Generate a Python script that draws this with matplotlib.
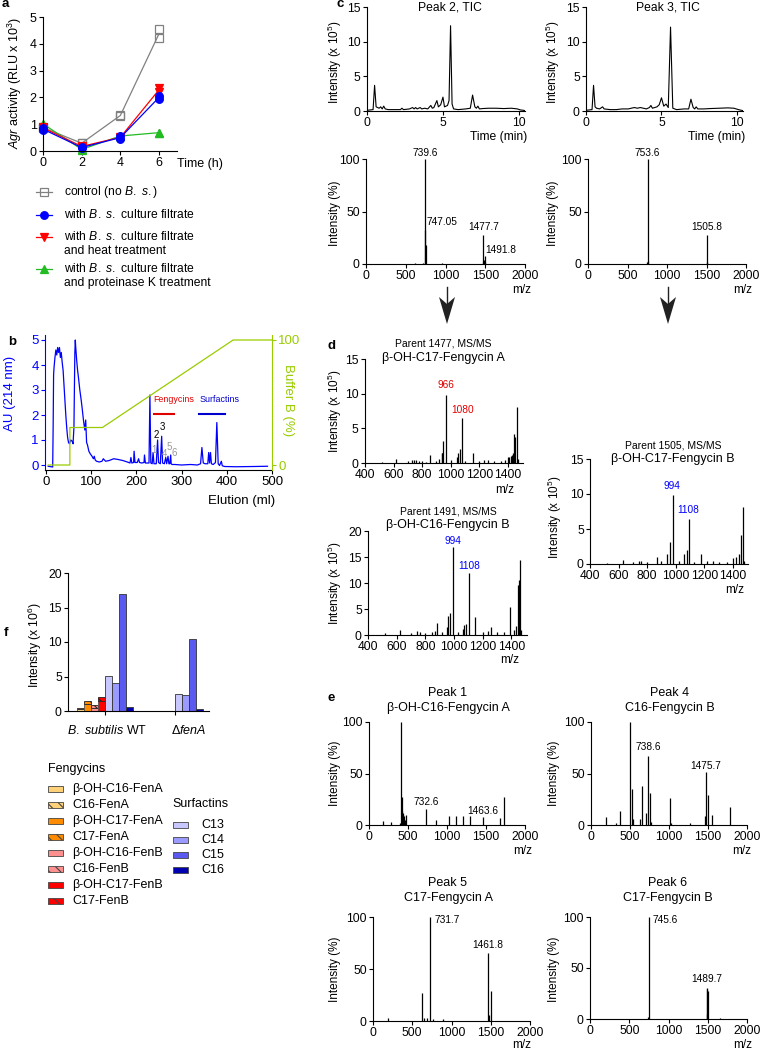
import matplotlib
matplotlib.use("Agg")
import matplotlib.pyplot as plt
from matplotlib.patches import Rectangle, Polygon
from matplotlib.lines import Line2D

plt.rcParams["font.family"] = ["Liberation Sans", "DejaVu Sans"]
plt.rcParams["mathtext.fontset"] = "custom"
plt.rcParams["mathtext.rm"] = "Liberation Sans"
plt.rcParams["mathtext.it"] = "Liberation Sans:italic"
plt.rcParams["hatch.linewidth"] = 0.8

# ---------------- data ----------------
# a: Agr activity, two replicates per condition
time_h = [0, 2, 4, 6]
agr_control = [[0.85, 0.30, 1.30, 4.55], [0.90, 0.28, 1.35, 4.20]]
agr_filtrate = [[0.78, 0.12, 0.45, 1.95], [0.85, 0.14, 0.55, 2.05]]
agr_heat = [[0.85, 0.16, 0.50, 2.22], [0.88, 0.18, 0.52, 2.35]]
agr_protk = [[1.00, 0.05, 0.55, 0.68], [1.02, 0.07, 0.57, 0.69]]
legend_a = [["control (no $\\it{B.}$ $\\it{s.}$)"],
            ["with $\\it{B.}$ $\\it{s.}$ culture filtrate"],
            ["with $\\it{B.}$ $\\it{s.}$ culture filtrate", "and heat treatment"],
            ["with $\\it{B.}$ $\\it{s.}$ culture filtrate", "and proteinase K treatment"]]

# b: chromatogram (AU 214 nm) and buffer B gradient
elution_ml = [5, 15, 16, 17, 18, 20, 22, 24, 26, 28, 30, 32, 34, 36, 38, 40, 42, 44, 46, 48,
              50, 52, 55, 58, 60, 62, 64, 65, 66, 68, 70, 72, 75, 78, 80, 83, 86, 88, 90, 92,
              95, 98, 102, 105, 107, 109, 112, 118, 124, 127, 132, 140, 150, 160, 170, 180,
              186, 188, 190, 194, 195, 197, 202, 205, 207, 212, 217, 218, 220, 228, 230, 232,
              235, 237, 239, 244, 247, 249, 253, 256, 258, 262, 265, 267, 270, 272, 274, 276,
              277, 279, 285, 300, 320, 335, 342, 345, 348, 352, 358, 360, 362, 364, 366, 370,
              375, 378, 381, 384, 388, 390, 395, 420, 460, 490]
au_214 = [-0.05, -0.08, 1.5, 3.6, 3.9, 4.3, 4.6, 4.4, 4.7, 4.5, 4.7, 4.3, 4.5, 4.1, 3.8,
          3.2, 2.6, 2.0, 1.5, 1.1, 0.9, 0.85, 1.0, 0.95, 0.85, 1.5, 4.5, 5.0, 4.7, 4.2, 3.8,
          3.5, 3.0, 2.6, 2.3, 1.8, 1.4, 1.8, 0.9, 0.8, 0.55, 0.45, 0.35, 0.25, 0.35, 0.2,
          0.15, 0.12, 0.15, 0.25, 0.15, 0.18, 0.25, 0.22, 0.18, 0.12, 0.08, 0.3, 0.08, 0.1,
          0.55, 0.1, 0.1, 0.25, 0.1, 0.08, 0.1, 0.4, 0.08, 0.08, 2.8, 0.08, 0.05, 0.5, 0.05,
          0.05, 1.0, 0.1, 0.05, 1.15, 0.08, 0.05, 0.3, 0.05, 0.35, 0.05, 0.05, 0.4, 0.05,
          0.02, 0.02, 0.0, 0.02, 0.0, 0.05, 0.7, 0.08, 0.05, 0.05, 0.5, 0.08, 0.5, 0.05,
          0.02, 0.1, 1.7, 0.05, -0.02, 0.15, -0.03, -0.06, -0.07, -0.06, -0.05]
gradient_ml = [5, 53, 53, 125, 414, 500]
buffer_b = [0, 0, 30, 30, 100, 100]
peak_numbers = ["1", "2", "3", "4", "5", "6"]
peak_num_x = [239, 245, 257, 263, 272, 283]
peak_num_y = [0.6, 1.2, 1.5, 0.45, 0.7, 0.5]
peak_num_grey = [True, False, False, True, True, True]

# c: TIC traces
tic2_t = [0, 0.4, 0.5, 0.6, 0.7, 0.8, 0.9, 1.0, 1.1, 1.2, 1.4, 1.8, 2.2, 2.3, 2.4, 2.8, 3.0,
          3.1, 3.2, 3.3, 3.5, 3.6, 3.8, 4.0, 4.2, 4.3, 4.4, 4.6, 4.7, 4.85, 5.0, 5.1, 5.3,
          5.4, 5.5, 5.6, 5.7, 6.0, 6.5, 6.8, 6.95, 7.1, 7.2, 7.3, 7.4, 7.6, 8.0, 8.5, 9.0,
          9.5, 9.9, 10.1, 10.3, 10.4]
tic2_i = [0.1, 0.2, 3.7, 0.6, 0.5, 0.4, 0.6, 0.3, 0.7, 0.3, 0.2, 0.2, 0.2, 0.4, 0.2, 0.3,
          0.5, 0.3, 0.5, 0.3, 0.5, 0.3, 0.4, 0.3, 0.8, 0.4, 0.5, 1.5, 0.6, 0.9, 2.0, 0.6,
          0.8, 1.5, 12.3, 1.0, 0.3, 0.2, 0.3, 0.4, 2.3, 0.6, 0.4, 0.7, 0.3, 0.35, 0.4, 0.4,
          0.35, 0.4, 0.3, 0.15, 0.1, 0.05]
tic3_t = [0, 0.4, 0.5, 0.6, 0.7, 0.9, 1.1, 1.2, 1.6, 2.0, 2.4, 2.8, 3.0, 3.2, 3.4, 3.6,
          3.8, 4.0, 4.2, 4.3, 4.4, 4.7, 4.85, 5.0, 5.15, 5.3, 5.45, 5.6, 5.75, 6.0, 6.5,
          6.8, 6.95, 7.1, 7.2, 7.3, 7.4, 7.8, 8.2, 8.8, 9.4, 9.8, 10.1, 10.3, 10.4]
tic3_i = [0.1, 0.2, 3.7, 0.6, 0.4, 0.3, 0.6, 0.3, 0.2, 0.2, 0.3, 0.3, 0.4, 0.5, 0.4, 0.5,
          0.4, 0.3, 0.5, 0.8, 0.4, 0.6, 0.9, 1.9, 0.7, 1.0, 0.5, 12.1, 0.4, 0.2, 0.3, 0.3,
          1.7, 0.5, 0.3, 0.6, 0.3, 0.3, 0.35, 0.4, 0.45, 0.4, 0.2, 0.1, 0.05]

# c: MS of peak 2 and peak 3
ms2_mz = [620, 720, 739.6, 747.05, 752, 960, 1470, 1477.7, 1485, 1491.8, 1498]
ms2_int = [0.5, 1, 100, 32, 18, 1, 2, 28, 4, 8, 2]
ms3_mz = [745, 753.6, 760, 1500, 1505.8, 1512]
ms3_int = [2, 100, 3, 2, 28, 1]

# d: MS/MS spectra (x 1e5)
p1477_mz = [520, 617, 700, 730, 745, 760, 780, 800, 830, 855, 900, 920, 936, 942, 948, 966,
            1000, 1040, 1052, 1064, 1080, 1100, 1157, 1200, 1230, 1260, 1300, 1350, 1380,
            1400, 1410, 1420, 1430, 1436, 1442, 1450, 1460, 1470]
p1477_int = [0.2, 0.6, 0.3, 0.4, 0.5, 0.4, 0.3, 0.3, 0.2, 1.1, 0.3, 0.6, 1.5, 1.4, 3.2, 9.8,
             0.4, 0.8, 1.4, 2.0, 6.5, 0.3, 1.5, 0.3, 0.4, 0.5, 0.3, 0.3, 0.4, 0.8, 0.9, 1.0,
             1.2, 1.5, 4.2, 3.8, 8.1, 0.6]
p1491_mz = [520, 620, 700, 740, 760, 800, 850, 870, 885, 920, 950, 960, 975, 994, 1030,
            1060, 1070, 1085, 1108, 1145, 1200, 1240, 1260, 1300, 1350, 1390, 1420, 1435,
            1448, 1452, 1460, 1470]
p1491_int = [0.3, 1.0, 0.4, 0.8, 0.5, 0.4, 0.6, 0.8, 2.4, 0.6, 1.5, 3.6, 4.2, 17, 0.5,
             1.2, 1.9, 2.2, 12, 3.4, 0.5, 0.8, 1.5, 0.5, 0.5, 5.3, 1.0, 1.8, 9.7, 10.5,
             14.5, 1.0]
p1505_mz = [520, 631, 700, 740, 760, 800, 866, 900, 940, 959, 978, 1020, 1059, 1076, 1094,
            1130, 1174, 1220, 1260, 1300, 1360, 1400, 1420, 1440, 1454, 1468, 1480]
p1505_int = [0.2, 0.6, 0.3, 0.5, 0.4, 0.3, 1.0, 0.4, 1.5, 3.2, 9.8, 0.4, 1.5, 2.0, 6.5,
             0.3, 1.5, 0.4, 0.5, 0.3, 0.3, 0.8, 1.0, 1.5, 4.2, 8.1, 0.5]

# e: MS of peaks 1, 4, 5, 6
pk1_mz = [184, 282, 400, 411, 418, 425, 432, 440, 449, 460, 474, 731, 859, 1030, 1115,
          1201, 1295, 1465, 1679, 1731]
pk1_int = [4, 3, 2, 100, 27, 14, 12, 10, 9, 5, 10, 16, 5, 9, 9, 9, 9, 8, 7, 27]
pk4_mz = [186, 318, 368, 495, 521, 540, 622, 660, 711, 737, 758, 775, 1012, 1030, 1270,
          1460, 1475, 1499, 1550, 1778]
pk4_int = [8, 2, 14, 100, 35, 6, 6, 38, 12, 67, 31, 3, 26, 2, 2, 9, 51, 29, 10, 17]
pk5_mz = [192, 627, 649, 687, 732, 768, 896, 1462, 1484, 1505]
pk5_int = [3, 27, 3, 3, 100, 2, 2, 65, 6, 29]
pk6_mz = [740, 745.6, 1485, 1489.7, 1495, 1500, 1650]
pk6_int = [2, 100, 5, 30, 29, 27, 1]

# f: lipopeptide intensities (x 1e6)
fen_names = ["β-OH-C16-FenA", "C16-FenA", "β-OH-C17-FenA", "C17-FenA",
             "β-OH-C16-FenB", "C16-FenB", "β-OH-C17-FenB", "C17-FenB"]
fen_colors = ["#FFD27A", "#FFD27A", "#FF8C00", "#FF8C00",
              "#FF9090", "#FF9090", "#FF0000", "#FF0000"]
fen_wt_base = [0.35, 1.0, 0.5, 1.4]      # beta-OH forms
fen_wt_top = [0.12, 0.5, 0.3, 0.6]       # non-hydroxylated forms (hatched)
sur_names = ["C13", "C14", "C15", "C16"]
sur_colors = ["#C8C8FF", "#9A9AFF", "#5A5AF0", "#0000B0"]
sur_wt = [5.1, 4.0, 17.0, 0.6]
sur_fena = [2.5, 2.3, 10.5, 0.35]
groups_f = ["$\\it{B.}$ $\\it{subtilis}$ WT", "Δ$\\it{fenA}$"]

# ---------------- figure ----------------
W, H = 761, 1050
fig = plt.figure(figsize=(W / 100, H / 100), dpi=100)
TICK = 8.7
PEAKFS = 7.3


def add_ax(l, t, r, b, labelsize=TICK):
    ax = fig.add_axes([l / W, 1 - b / H, (r - l) / W, (b - t) / H])
    ax.patch.set_alpha(0)
    for s in ("top", "right"):
        ax.spines[s].set_visible(False)
    for s in ("left", "bottom"):
        ax.spines[s].set_linewidth(0.8)
    ax.tick_params(direction="out", length=3, width=0.8, labelsize=labelsize, pad=1.5)
    return ax


def spectrum(ax, mz, inten, xlim, ylim, xticks, yticks):
    ax.vlines(mz, 0, inten, color="k", lw=0.9)
    ax.set_xlim(*xlim)
    ax.set_ylim(*ylim)
    ax.set_xticks(xticks)
    ax.set_yticks(yticks)


# --- a ---
ax = add_ax(43, 17, 177, 151, labelsize=9)
series_a = [(agr_control, "#808080", "s", "none"),
            (agr_protk, "#22BB22", "^", "#22BB22"),
            (agr_heat, "#FF0000", "v", "#FF0000"),
            (agr_filtrate, "#0000FF", "o", "#0000FF")]
for reps, col, mk, fc in series_a:
    mean = [(a + b) / 2 for a, b in zip(*reps)]
    ax.plot(time_h, mean, color=col, lw=0.9, clip_on=False)
    for r in reps:
        ax.plot(time_h, r, ls="none", marker=mk, ms=5.5, mfc=fc, mec=col, mew=0.9,
                clip_on=False)
ax.set_xlim(0, 6.93)
ax.set_ylim(0, 5)
ax.set_xticks(time_h)
ax.set_yticks([0, 1, 2, 3, 4, 5])

# --- b ---
ax = add_ax(45, 335, 272, 470, labelsize=9.5)
ax.plot(elution_ml, au_214, color="#0000FF", lw=0.9)
ax.set_xlim(-2, 500)
ax.set_ylim(-0.2, 5.2)
ax.set_xticks([0, 100, 200, 300, 400, 500])
ax.set_yticks([0, 1, 2, 3, 4, 5])
ax.tick_params(axis="y", colors="#0000FF")
ax.spines["left"].set_color("#0000FF")
ax.plot([239, 283], [2.04, 2.04], color="#E00000", lw=1.5)
ax.text(237, 2.6, "Fengycins", color="#E00000", fontsize=6.4, va="center")
ax.plot([338, 396], [2.04, 2.04], color="#0000CC", lw=1.5)
ax.text(340, 2.6, "Surfactins", color="#0000CC", fontsize=6.4, va="center")
for lab, px, py, grey in zip(peak_numbers, peak_num_x, peak_num_y, peak_num_grey):
    ax.text(px, py, lab, fontsize=7, color="#999999" if grey else "k",
            ha="center", va="center")
ax2 = ax.twinx()
ax2.patch.set_alpha(0)
ax2.plot(gradient_ml, buffer_b, color="#99CC00", lw=0.9)
ax2.set_ylim(-4, 104)
ax2.set_yticks([0, 100])
for s in ("top", "left", "bottom"):
    ax2.spines[s].set_visible(False)
ax2.spines["right"].set_color("#99CC00")
ax2.spines["right"].set_linewidth(0.8)
ax2.tick_params(direction="out", length=3, width=0.8, labelsize=9.5, pad=1.5,
                colors="#99CC00")

# --- c ---
for l, r, t_, i_ in [(367, 525, tic2_t, tic2_i), (586, 743, tic3_t, tic3_i)]:
    ax = add_ax(l, 7, r, 111)
    ax.plot(t_, i_, color="k", lw=0.8)
    ax.set_xlim(0, 10.4)
    ax.set_ylim(0, 15)
    ax.set_xticks([0, 5, 10])
    ax.set_yticks([0, 5, 10, 15])

ax = add_ax(366, 159, 525, 264)
spectrum(ax, ms2_mz, ms2_int, (0, 2000), (0, 100), [0, 500, 1000, 1500, 2000], [0, 50, 100])
ax.text(739.6, 101, "739.6", fontsize=PEAKFS, ha="center", va="bottom")
ax.text(767, 40, "747.05", fontsize=PEAKFS, ha="left", va="center")
ax.text(1484, 35, "1477.7", fontsize=PEAKFS, ha="center", va="center")
ax.text(1497, 13, "1491.8", fontsize=PEAKFS, ha="left", va="center")

ax = add_ax(588, 159, 746, 264)
spectrum(ax, ms3_mz, ms3_int, (0, 2000), (0, 100), [0, 500, 1000, 1500, 2000], [0, 50, 100])
ax.text(753.6, 101, "753.6", fontsize=PEAKFS, ha="center", va="bottom")
ax.text(1505.8, 35, "1505.8", fontsize=PEAKFS, ha="center", va="center")

# --- d ---
dticks = [400, 600, 800, 1000, 1200, 1400]
ax = add_ax(365, 359, 523, 463)
spectrum(ax, p1477_mz, p1477_int, (400, 1505), (0, 15), dticks, [0, 5, 10, 15])
ax.text(966, 11.2, "966", fontsize=PEAKFS, color="#E00000", ha="center", va="center")
ax.text(1080, 7.7, "1080", fontsize=PEAKFS, color="#E00000", ha="center", va="center")

ax = add_ax(368, 531, 527, 635)
spectrum(ax, p1491_mz, p1491_int, (400, 1510), (0, 20), dticks, [0, 5, 10, 15, 20])
ax.text(994, 18.0, "994", fontsize=PEAKFS, color="#0000FF", ha="center", va="center")
ax.text(1108, 13.2, "1108", fontsize=PEAKFS, color="#0000FF", ha="center", va="center")

ax = add_ax(590, 459, 748, 564)
spectrum(ax, p1505_mz, p1505_int, (400, 1505), (0, 15), dticks, [0, 5, 10, 15])
ax.text(973, 11.2, "994", fontsize=PEAKFS, color="#0000FF", ha="center", va="center")
ax.text(1085, 7.7, "1108", fontsize=PEAKFS, color="#0000FF", ha="center", va="center")

# --- e ---
eticks = [0, 500, 1000, 1500, 2000]
ax = add_ax(369, 722, 525, 825)
spectrum(ax, pk1_mz, pk1_int, (0, 2000), (0, 100), eticks, [0, 50, 100])
ax.text(732.6, 22, "732.6", fontsize=PEAKFS, ha="center", va="center")
ax.text(1463.6, 14, "1463.6", fontsize=PEAKFS, ha="center", va="center")

ax = add_ax(591, 722, 747, 825)
spectrum(ax, pk4_mz, pk4_int, (0, 2000), (0, 100), eticks, [0, 50, 100])
ax.text(738.6, 76, "738.6", fontsize=PEAKFS, ha="center", va="center")
ax.text(1475.7, 57, "1475.7", fontsize=PEAKFS, ha="center", va="center")

ax = add_ax(373, 917, 530, 1021)
spectrum(ax, pk5_mz, pk5_int, (0, 2000), (0, 100), eticks, [0, 50, 100])
ax.text(787, 97, "731.7", fontsize=PEAKFS, ha="left", va="center")
ax.text(1461.8, 73, "1461.8", fontsize=PEAKFS, ha="center", va="center")

ax = add_ax(590, 917, 747, 1019)
spectrum(ax, pk6_mz, pk6_int, (0, 2000), (0, 100), eticks, [0, 50, 100])
ax.text(794, 97, "745.6", fontsize=PEAKFS, ha="left", va="center")
ax.text(1489.7, 39, "1489.7", fontsize=PEAKFS, ha="center", va="center")

# --- f ---
ax = add_ax(68, 573, 209, 711)
for i in range(4):
    c = fen_colors[2 * i]
    ax.bar(i, fen_wt_base[i], width=1, align="edge", color=c, edgecolor="#555555", lw=0.6)
    ax.bar(i, fen_wt_top[i], bottom=fen_wt_base[i], width=1, align="edge", color=c,
           edgecolor="#222222", lw=0.6, hatch="\\\\\\")
for j in range(4):
    ax.bar(4 + j, sur_wt[j], width=1, align="edge", color=sur_colors[j],
           edgecolor="#333333", lw=0.6)
    ax.bar(14 + j, sur_fena[j], width=1, align="edge", color=sur_colors[j],
           edgecolor="#333333", lw=0.6)
ax.set_xlim(-1.3, 18.9)
ax.set_ylim(0, 20)
ax.set_yticks([0, 5, 10, 15, 20])
ax.set_xticks([4, 14])
ax.set_xticklabels([])

# ---------------- overlay (labels, legends, arrows) ----------------
ov = fig.add_axes([0, 0, 1, 1])
ov.set_xlim(0, W)
ov.set_ylim(H, 0)
ov.axis("off")
ov.patch.set_alpha(0)


def t(x, y, s, **kw):
    kw.setdefault("fontsize", 8.5)
    kw.setdefault("ha", "center")
    kw.setdefault("va", "center")
    ov.text(x, y, s, **kw)


for lab, x, y in [("a", 5, 4), ("b", 12, 342), ("c", 340, 4), ("d", 331, 346),
                  ("e", 331, 698), ("f", 6, 633)]:
    t(x, y, lab, fontweight="bold", fontsize=9.5)

# a labels + legend
t(15, 83, "$\\it{Agr}$ activity (RLU x 10$^3$)", rotation=90, fontsize=9)
t(177, 164, "Time (h)", ha="left", fontsize=9)
leg_y = [192, 215, 237, 269]
for (reps, col, mk, fc), y, lines in zip(
        [series_a[0], series_a[3], series_a[2], series_a[1]], leg_y, legend_a):
    ov.add_line(Line2D([36, 52], [y, y], color=col, lw=0.9))
    ov.plot([44], [y], marker=mk, ms=5.5, mfc=fc, mec=col, mew=0.9)
    for k, line in enumerate(lines):
        t(64, y + 14 * k, line, ha="left", fontsize=8.7)

# b labels
t(10, 393, "AU (214 nm)", rotation=90, color="#0000FF", fontsize=9.5)
t(288, 400, "Buffer B (%)", rotation=270, color="#99CC00", fontsize=9.5)
t(275, 501, "Elution (ml)", ha="right", fontsize=9.5)

# c labels
t(450, 7, "Peak 2, TIC", fontsize=8.7)
t(668, 7, "Peak 3, TIC", fontsize=8.7)
for x in (335, 553):
    t(x, 62, "Intensity (x 10$^5$)", rotation=90, fontsize=8.5)
    t(x, 213, "Intensity (%)", rotation=90, fontsize=8.5)
t(527, 137, "Time (min)", ha="right", fontsize=8.7)
t(745, 137, "Time (min)", ha="right", fontsize=8.7)
t(522, 290, "m/z", fontsize=8.5)
t(743, 290, "m/z", fontsize=8.5)
# arrows from c to d: thin shaft and notched head
for x in (447, 668):
    ov.add_line(Line2D([x, x], [287, 306], color="#222222", lw=1.0))
    ov.add_patch(Polygon([(x - 8, 297), (x, 304), (x + 8, 297), (x, 324)],
                         closed=True, facecolor="#222222", edgecolor="none"))

# d labels
t(443, 344, "Parent 1477, MS/MS", fontsize=7.5)
t(443, 358, "β-OH-C17-Fengycin A", fontsize=9)
t(448, 512, "Parent 1491, MS/MS", fontsize=7.5)
t(448, 525, "β-OH-C16-Fengycin B", fontsize=9)
t(673, 446, "Parent 1505, MS/MS", fontsize=7.5)
t(673, 459, "β-OH-C17-Fengycin B", fontsize=9)
t(335, 411, "Intensity (x 10$^5$)", rotation=90, fontsize=8.5)
t(335, 583, "Intensity (x 10$^5$)", rotation=90, fontsize=8.5)
t(555, 517, "Intensity (x 10$^5$)", rotation=90, fontsize=8.5)
t(505, 490, "m/z", fontsize=8.5)
t(510, 660, "m/z", fontsize=8.5)
t(735, 590, "m/z", fontsize=8.5)

# e labels
for x, y, l1, l2 in [(448, 693, "Peak 1", "β-OH-C16-Fengycin A"),
                     (670, 693, "Peak 4", "C16-Fengycin B"),
                     (448, 883, "Peak 5", "C17-Fengycin A"),
                     (668, 883, "Peak 6", "C17-Fengycin B")]:
    t(x, y, l1, fontsize=9)
    t(x, y + 15, l2, fontsize=9)
for y in (773, 969):
    t(335, y, "Intensity (%)", rotation=90, fontsize=8.5)
    t(554, y, "Intensity (%)", rotation=90, fontsize=8.5)
t(523, 851, "m/z", fontsize=8.5)
t(742, 851, "m/z", fontsize=8.5)
t(522, 1045, "m/z", fontsize=8.5)
t(743, 1045, "m/z", fontsize=8.5)

# f labels + legend
t(35, 645, "Intensity (x 10$^6$)", rotation=90, fontsize=8.7)
t(107, 731, groups_f[0], fontsize=9)
t(189, 731, groups_f[1], fontsize=9)
t(48, 769, "Fengycins", ha="left", fontsize=9)
t(172, 804, "Surfactins", ha="left", fontsize=9)
for k, (name, col) in enumerate(zip(fen_names, fen_colors)):
    y = 789 + k * 16
    ov.add_patch(Rectangle((48, y - 3), 15, 6, facecolor=col, edgecolor="#444444",
                           lw=0.6, hatch="\\\\\\" if k % 2 else None))
    t(72, y, name, ha="left", fontsize=9)
for k, (name, col) in enumerate(zip(sur_names, sur_colors)):
    y = 825 + k * 15
    ov.add_patch(Rectangle((173, y - 3), 15, 6, facecolor=col, edgecolor="#444444",
                           lw=0.6))
    t(201, y, name, ha="left", fontsize=9)

fig.savefig("out.png", dpi=100)
